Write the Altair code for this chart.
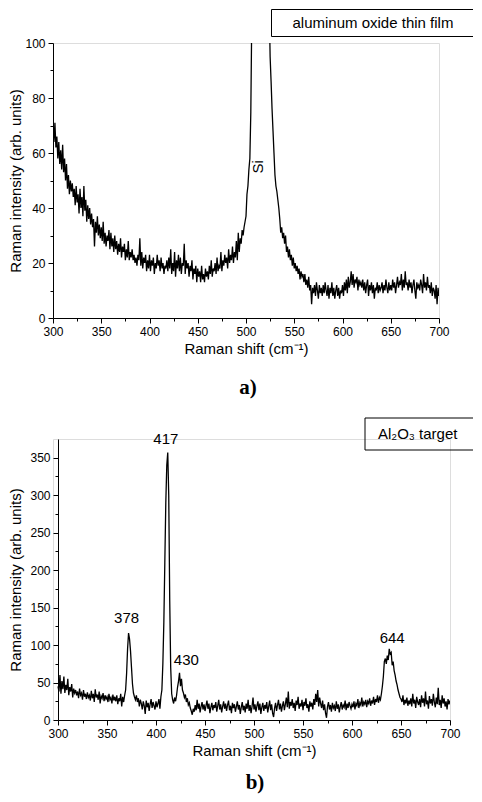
import altair as alt
import pandas as pd

# ---------------- data ----------------
shift_a = list(range(300, 701))
intensity_a = [
    70, 64, 71, 62, 66, 58, 64, 56, 61, 54,
    63, 53, 58, 50, 56, 47, 52, 45, 50, 46,
    49, 44, 47, 41, 48, 42, 45, 38, 47, 40,
    44, 37, 48, 39, 43, 35, 41, 36, 40, 34,
    38, 33, 36, 26, 35, 31, 37, 30, 34, 29,
    33, 28, 35, 27, 31, 26, 30, 28, 32, 25,
    31, 26, 29, 24, 30, 25, 28, 23, 27, 24,
    29, 22, 26, 24, 27, 21, 25, 22, 28, 21,
    24, 22, 25, 21, 23, 20, 22, 19, 23, 21,
    29, 19, 24, 18, 22, 20, 23, 17, 21, 18,
    23, 17, 21, 19, 22, 16, 20, 18, 23, 19,
    21, 17, 22, 18, 20, 16, 19, 18, 21, 17,
    22, 18, 25, 16, 20, 17, 24, 15, 21, 18,
    23, 17, 22, 16, 20, 19, 27, 16, 21, 18,
    20, 15, 19, 17, 21, 14, 18, 16, 19, 13,
    18, 15, 17, 13, 19, 14, 16, 13, 18, 15,
    17, 14, 19, 16, 21, 15, 18, 17, 20, 16,
    22, 17, 19, 18, 24, 17, 21, 19, 23, 20,
    22, 18, 25, 20, 23, 21, 26, 20, 24, 22,
    28, 21, 31, 24, 29, 27, 32, 30, 33, 35,
    37, 45, 48, 54, 58, 75, 110, 180, 260, 340,
    420, 480, 540, 580, 600, 590, 560, 520, 470, 400,
    330, 260, 200, 150, 115, 95, 86, 76, 68, 60,
    52, 48, 46, 43, 40, 36, 31, 33, 29, 31,
    27, 30, 24, 26, 22, 25, 21, 23, 19, 22,
    18, 20, 17, 19, 16, 18, 14, 17, 15, 16,
    13, 16, 12, 14, 11, 15, 10, 12, 5, 11,
    9, 12, 8, 13, 10, 7, 12, 9, 11, 8,
    12, 9, 13, 10, 8, 12, 7, 11, 9, 13,
    8, 11, 7, 10, 12, 8, 11, 7, 10, 9,
    12, 8, 13, 10, 14, 9, 15, 11, 13, 17,
    12, 16, 11, 14, 13, 15, 10, 14, 12, 13,
    11, 14, 10, 13, 9, 12, 14, 8, 12, 10,
    13, 9, 12, 7, 11, 10, 13, 9, 12, 10,
    11, 13, 9, 12, 10, 14, 11, 9, 13, 10,
    12, 10, 14, 11, 13, 9, 12, 15, 11, 13,
    12, 16, 10, 14, 11, 17, 12, 13, 10, 14,
    11, 13, 9, 12, 14, 10, 7, 13, 11, 12,
    10, 14, 12, 9, 16, 11, 13, 10, 15, 11,
    12, 9, 13, 8, 11, 10, 7, 12, 5, 11,
    8,
]

shift_b = list(range(300, 701))
intensity_b = [
    45, 38, 60, 35, 52, 41, 58, 36, 47, 40,
    55, 33, 44, 38, 48, 30, 42, 36, 40, 33,
    38, 29, 42, 33, 36, 27, 40, 31, 35, 28,
    37, 30, 33, 26, 39, 29, 35, 24, 41, 30,
    34, 27, 38, 22, 32, 29, 36, 25, 33, 28,
    31, 24, 35, 27, 30, 22, 34, 26, 31, 25,
    33, 21, 29, 25, 35, 18, 31, 24, 33, 40,
    62, 95, 116, 108, 92, 70, 48, 36, 31, 27,
    33, 24, 29, 18, 27, 22, 14, 25, 19, 8,
    26, 17, 23, 12, 21, 28, 16, 24, 19, 14,
    25, 17, 22, 28, 15, 31, 40, 75, 130, 210,
    290, 340, 357, 300, 160, 70, 35, 27, 22, 30,
    25, 33, 44, 52, 63, 45, 55, 40, 36, 30,
    34, 24, 29, 20, 23, 16, 12, 7, 15, 11,
    20, 13, 27, 15, 22, 10, 18, 24, 14, 21,
    12, 19, 26, 15, 22, 9, 17, 23, 13, 20,
    16, 24, 11, 19, 27, 14, 21, 10, 18, 25,
    15, 22, 12, 20, 26, 13, 19, 9, 23, 16,
    21, 11, 18, 25, 14, 20, 8, 17, 24, 13,
    19, 10, 22, 15, 27, 12, 20, 9, 18, 30,
    14, 21, 11, 19, 25, 13, 22, 8, 17, 23,
    12, 20, 15, 24, 10, 18, 26, 13, 21, 9,
    4, 16, 23, 12, 20, 27, 14, 22, 11, 19,
    25, 13, 21, 30, 17, 38, 15, 24, 19, 28,
    16, 23, 12, 26, 20, 31, 15, 22, 18, 27,
    13, 24, 19, 29, 16, 21, 11, 25, 18, 23,
    14, 28, 20, 35, 24, 40, 18, 30, 22, 16,
    26, 13, 21, 9, 3, 18, 24, 14, 20, 11,
    23, 16, 19, 12, 25, 15, 21, 10, 18, 24,
    14, 20, 17, 26, 13, 22, 16, 24, 19, 15,
    21, 17, 25, 14, 22, 19, 28, 16, 23, 20,
    30, 18, 24, 21, 27, 17, 25, 22, 29, 19,
    26, 22, 31, 20, 28, 24, 33, 23, 30, 27,
    35, 45, 58, 78, 82, 75, 86, 80, 95, 88,
    90, 73, 78, 66, 60, 52, 47, 40, 35, 30,
    28, 24, 33, 20, 27, 22, 30, 19, 26, 21,
    29, 18, 35, 22, 27, 16, 31, 24, 20, 28,
    17, 33, 23, 29, 18, 38, 21, 26, 15, 32,
    22, 28, 19, 35, 24, 17, 30, 21, 43, 20,
    27, 16, 33, 22, 29, 18, 25, 14, 28, 21,
    26,
]

x_major = [300, 350, 400, 450, 500, 550, 600, 650, 700]
x_minor = [325, 375, 425, 475, 525, 575, 625, 675]
ya_major = [0, 20, 40, 60, 80, 100]
ya_minor = [10, 30, 50, 70, 90]
yb_major = [0, 50, 100, 150, 200, 250, 300, 350]
yb_minor = [25, 75, 125, 175, 225, 275, 325]

si_label = ["Si"]
si_x = [512]
si_y = [55]

peak_labels = ["417", "378", "430", "644"]
peak_x = [410, 370, 431, 641]
peak_y = [375, 136, 80, 109]

legend_a = "aluminum oxide thin film"
legend_b = "Al\u2082O\u2083 target"
panel_a = "a)"
panel_b = "b)"
x_title = "Raman shift (cm\u207b\u00b9)"
y_title = "Raman intensity (arb. units)"

FONT = "Liberation Sans"

df_a = pd.DataFrame({"x": shift_a, "y": intensity_a})
df_b = pd.DataFrame({"x": shift_b, "y": intensity_b})
one = pd.DataFrame({"x": [300], "y": [0]})


def axis_major(values, title, orient, title_pad, label_pad, offset=0):
    return alt.Axis(values=values, title=title, orient=orient, grid=False,
                    tickSize=5, tickColor="black", domainColor="black",
                    labelColor="black", titleColor="black", labelFontSize=12,
                    titleFontSize=15, titleFontWeight="normal", labelFont=FONT,
                    titleFont=FONT, titlePadding=title_pad, labelPadding=label_pad,
                    labelFlush=False, labelOverlap=False, offset=offset)


def axis_minor(values, orient, offset=0):
    return alt.Axis(values=values, title=None, orient=orient, grid=False,
                    labels=False, domain=False, tickSize=3, tickColor="black",
                    offset=offset)


def panel(df, ydom, ymaj, ymin, ytp, legend_text, box, text_dx, label_df,
          label_angle, tag, tag_pos, shift, w, h):
    xs = alt.Scale(domain=[300, 700], nice=False, zero=False, range=[shift, shift + w])
    ys = alt.Scale(domain=ydom, nice=False, zero=False)
    line = alt.Chart(df).mark_line(color="black", strokeWidth=1.3, clip=True).encode(
        x=alt.X("x:Q", scale=xs, axis=axis_major(x_major, x_title, "bottom", 4, 3)),
        y=alt.Y("y:Q", scale=ys,
                axis=axis_major(ymaj, y_title, "left", ytp, 3, offset=-shift)),
    )
    minor = alt.Chart(one).mark_point(opacity=0).encode(
        x=alt.X("x:Q", scale=xs, axis=axis_minor(x_minor, "bottom")),
        y=alt.Y("y:Q", scale=ys, axis=axis_minor(ymin, "left", offset=-shift)),
    )
    labels = alt.Chart(label_df).mark_text(
        fontSize=15, font=FONT, color="black", angle=label_angle, baseline="middle"
    ).encode(
        x=alt.X("x:Q", scale=xs, axis=None),
        y=alt.Y("y:Q", scale=ys, axis=None),
        text="label:N",
    )
    bx0, bx1, by0, by1 = box
    top_edge = alt.Chart(one).mark_rule(color="black", strokeWidth=1).encode(
        x=alt.value(bx0), x2=alt.value(bx1), y=alt.value(by0))
    bot_edge = alt.Chart(one).mark_rule(color="black", strokeWidth=1).encode(
        x=alt.value(bx0), x2=alt.value(bx1), y=alt.value(by1))
    left_edge = alt.Chart(one).mark_rule(color="black", strokeWidth=1).encode(
        x=alt.value(bx0), y=alt.value(by0), y2=alt.value(by1))
    box_text = alt.Chart(one).mark_text(
        align="left", baseline="middle", fontSize=15, font=FONT, color="black"
    ).encode(x=alt.value(bx0 + text_dx), y=alt.value((by0 + by1) / 2),
             text=alt.value(legend_text))
    tag_text = alt.Chart(one).mark_text(
        align="center", baseline="middle", fontSize=21, font="Liberation Serif",
        fontWeight="bold", color="black"
    ).encode(x=alt.value(tag_pos[0]), y=alt.value(tag_pos[1]), text=alt.value(tag))
    return alt.layer(line, minor, labels, top_edge, bot_edge, left_edge,
                     box_text, tag_text).resolve_axis(
        x="independent", y="independent").properties(width=shift + w, height=h)


lab_a = pd.DataFrame({"x": si_x, "y": si_y, "label": si_label})
lab_b = pd.DataFrame({"x": peak_x, "y": peak_y, "label": peak_labels})

top = panel(df_a, [0, 100], ya_major, ya_minor, 1, legend_a,
            (218.5, 420, -33.5, -6.5), 21, lab_a, 270, panel_a, (195, 345),
            0, 386, 275)
bottom = panel(df_b, [0, 375], yb_major, yb_minor, 6, legend_b,
               (312, 420, -21, 11), 13, lab_b, 0, panel_b, (202, 344),
               5, 392, 281)

chart = alt.concat(top, bottom, columns=1, spacing=18,
                   padding=0).configure_view(
    stroke=None
).configure(background="white")

chart.save("out.html", embed_options={"renderer": "svg", "actions": False})
